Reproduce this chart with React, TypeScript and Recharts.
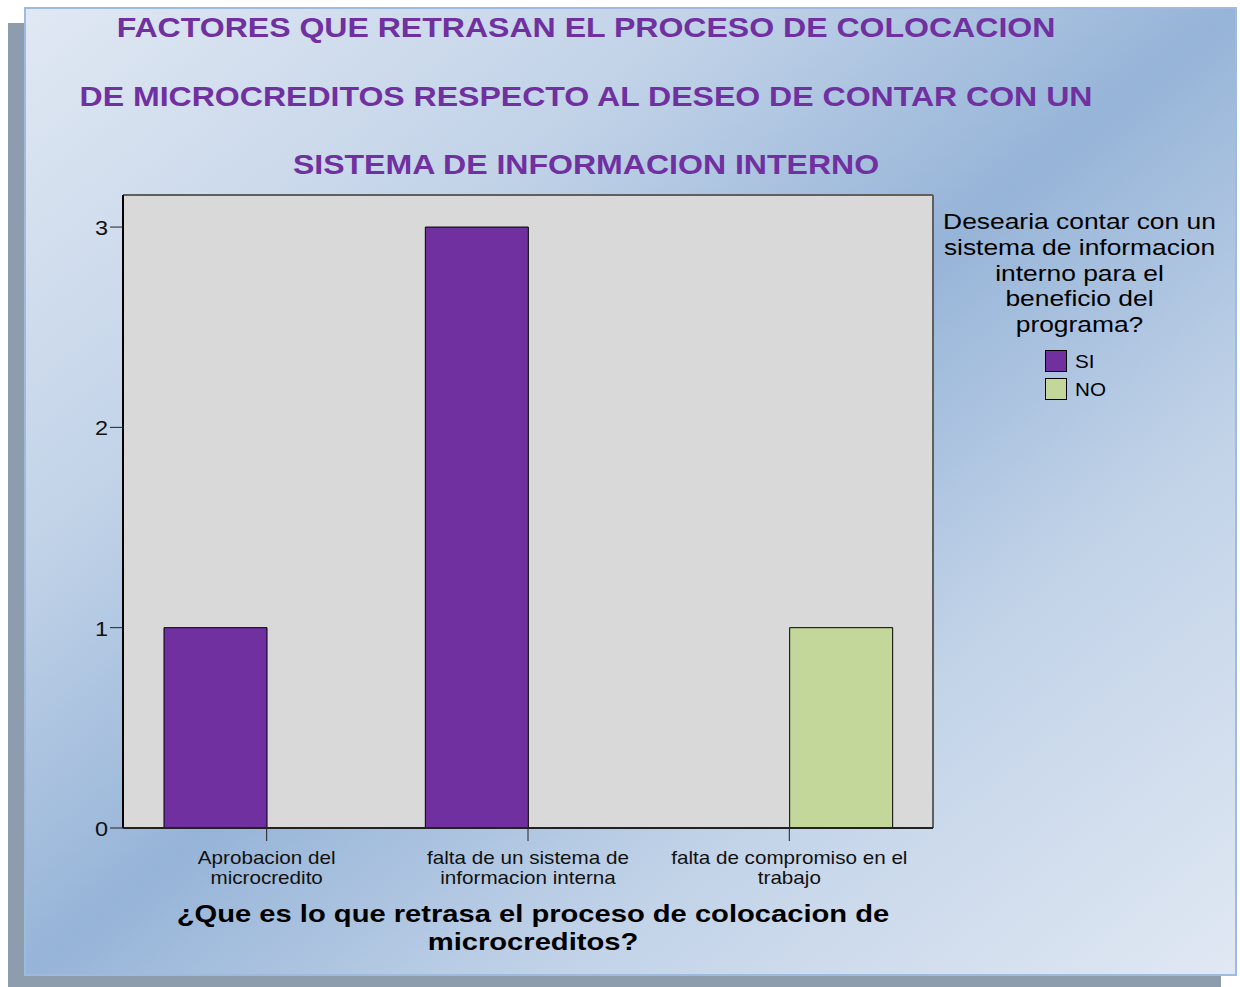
import React from "react";
import { BarChart, Bar, XAxis, YAxis, CartesianGrid, Legend, Label } from "recharts";

// chart values
const categories = [
  "Aprobacion del microcredito",
  "falta de un sistema de informacion interna",
  "falta de compromiso en el trabajo",
];
const categoryLines = [
  ["Aprobacion del", "microcredito"],
  ["falta de un sistema de", "informacion interna"],
  ["falta de compromiso en el", "trabajo"],
];
const seriesNames = ["SI", "NO"];
const siValues = [1, 3, 0];
const noValues = [0, 0, 1];
const yTicks = [0, 1, 2, 3];

const titleLines = [
  "FACTORES QUE RETRASAN EL PROCESO DE COLOCACION",
  "DE MICROCREDITOS RESPECTO AL DESEO DE CONTAR CON UN",
  "SISTEMA DE INFORMACION INTERNO",
];
const legendTitleLines = [
  "Desearia contar con un",
  "sistema de informacion",
  "interno para el",
  "beneficio del",
  "programa?",
];
const xTitleLines = ["¿Que es lo que retrasa el proceso de colocacion de", "microcreditos?"];

const data = categories.map((name, i) => ({ name, SI: siValues[i], NO: noValues[i] }));

const FONT = "'Liberation Sans', Arial, Helvetica, sans-serif";
const STRETCH = 1.18; // text in the picture is drawn a bit wide

const CatTick = (props: any) => {
  const { x, y, payload } = props;
  const lines = categoryLines[payload.index] || [String(payload.value)];
  return (
    <g>
      {lines.map((line, i) => (
        <text
          key={i}
          transform={`translate(${x},${y + 21 + i * 20}) scale(${STRETCH},1)`}
          textAnchor="middle"
          fontFamily={FONT}
          fontSize={17.5}
          fill="#111"
        >
          {line}
        </text>
      ))}
    </g>
  );
};

const NumTick = (props: any) => {
  const { x, y, payload } = props;
  return (
    <text
      transform={`translate(${x},${y + 8}) scale(1.12,1)`}
      textAnchor="end"
      fontFamily={FONT}
      fontSize={21}
      fill="#111"
    >
      {payload.value}
    </text>
  );
};

const renderXTitle = (props: any) => {
  const vb = props.viewBox || { x: 123, y: 828, width: 810 };
  const cx = vb.x + vb.width / 2 + 5;
  return (
    <g>
      {xTitleLines.map((line, i) => (
        <text
          key={i}
          transform={`translate(${cx},${vb.y + 94 + i * 28}) scale(1.19,1)`}
          textAnchor="middle"
          fontFamily={FONT}
          fontWeight="bold"
          fontSize={24.5}
          fill="#000"
        >
          {line}
        </text>
      ))}
    </g>
  );
};

const renderLegend = (props: any) => {
  const payload = [...(props.payload || [])].sort(
    (a: any, b: any) => seriesNames.indexOf(a.value) - seriesNames.indexOf(b.value)
  );
  return (
    <svg width={300} height={210} style={{ display: "block" }}>
      {legendTitleLines.map((line, i) => (
        <text
          key={i}
          transform={`translate(149.5,${24 + i * 25.8}) scale(1.2,1)`}
          textAnchor="middle"
          fontFamily={FONT}
          fontSize={22}
          fill="#000"
        >
          {line}
        </text>
      ))}
      {payload.map((entry: any, i: number) => (
        <g key={entry.value}>
          <rect x={115.5} y={145.5 + i * 28} width={21} height={21} fill={entry.color} stroke="#000" strokeWidth={1} />
          <text
            transform={`translate(145,${163 + i * 28}) scale(${STRETCH},1)`}
            fontFamily={FONT}
            fontSize={17.5}
            fill="#000"
          >
            {entry.value}
          </text>
        </g>
      ))}
    </svg>
  );
};

export default function App() {
  return (
    <div style={{ position: "absolute", left: 0, top: 0, width: 1240, height: 987, overflow: "hidden", background: "#fff" }}>
      {/* drop shadow */}
      <div style={{ position: "absolute", left: 8, top: 23, width: 1213, height: 964, background: "#8e9dae" }} />
      {/* gradient panel */}
      <div
        style={{
          position: "absolute",
          left: 24,
          top: 7,
          width: 1213,
          height: 969,
          boxSizing: "border-box",
          border: "2px solid #9fbadc",
          background: "linear-gradient(to bottom right, #e0e8f3 0%, #c2d3e8 28%, #96b4d8 50%, #c2d3e8 72%, #e0e8f3 100%)",
        }}
      />
      <svg width={1240} height={200} style={{ position: "absolute", left: 0, top: 0 }}>
        {titleLines.map((line, i) => (
          <text
            key={i}
            transform={`translate(586,${37 + i * 68.5}) scale(1.145,1)`}
            textAnchor="middle"
            fontFamily={FONT}
            fontWeight="bold"
            fontSize={28}
            fill="#7030a0"
          >
            {line}
          </text>
        ))}
      </svg>
      <div style={{ position: "absolute", left: 0, top: 0 }}>
        <BarChart
          width={1240}
          height={987}
          data={data}
          margin={{ top: 195, right: 307, bottom: 99, left: 83 }}
          barGap={0}
        >
          <CartesianGrid fill="#d9d9d9" horizontal={false} vertical={false} />
          {/* frame on the top and right of the plot */}
          <CartesianGrid
            stroke="#5f5f5f"
            strokeWidth={2}
            horizontalCoordinatesGenerator={({ offset }: any) => [offset.top]}
            verticalCoordinatesGenerator={({ offset }: any) => [offset.left + offset.width]}
          />
          <XAxis
            dataKey="name"
            interval={0}
            padding={{ left: 13, right: 13 }}
            tickSize={13}
            height={60}
            axisLine={{ stroke: "#222", strokeWidth: 2 }}
            tickLine={{ stroke: "#222" }}
            tick={<CatTick />}
          >
            <Label content={renderXTitle} />
          </XAxis>
          <YAxis
            domain={[0, 3.16]}
            ticks={yTicks}
            width={40}
            tickSize={13}
            axisLine={{ stroke: "#000", strokeWidth: 2 }}
            tickLine={{ stroke: "#222" }}
            tick={<NumTick />}
          />
          <Legend
            layout="vertical"
            align="center"
            verticalAlign="middle"
            wrapperStyle={{ left: 930, top: 205, width: 300 }}
            content={renderLegend}
          />
          <Bar dataKey="SI" name="SI" fill="#7030a0" stroke="#000" strokeWidth={1} barSize={103} isAnimationActive={false} />
          <Bar dataKey="NO" name="NO" fill="#c4d79b" stroke="#000" strokeWidth={1} barSize={103} isAnimationActive={false} />
        </BarChart>
      </div>
    </div>
  );
}
